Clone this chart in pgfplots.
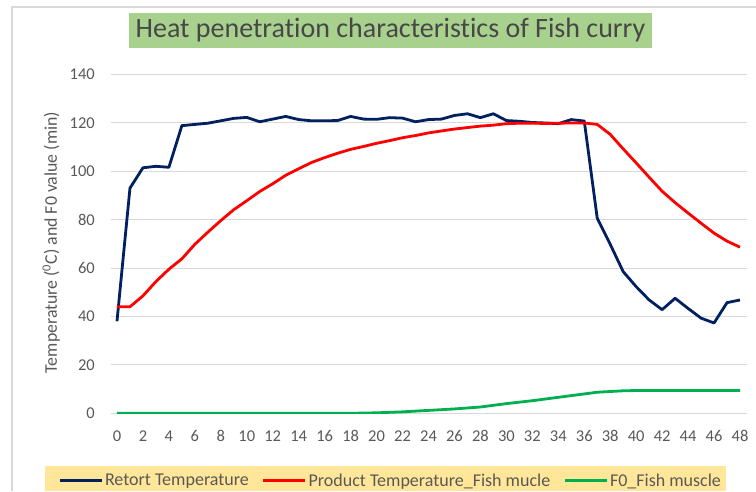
\documentclass[border=0pt]{standalone}
\usepackage{pgfplots}
\pgfplotsset{compat=1.18}
\usepackage{fontspec}
\setmainfont{Carlito}[Ligatures={NoCommon}]
\definecolor{retort}{HTML}{002060}
\definecolor{prodred}{HTML}{FF0000}
\definecolor{fzero}{HTML}{00B050}
\definecolor{gridgray}{HTML}{D9D9D9}
\definecolor{txtgray}{HTML}{595959}
\definecolor{titlegreen}{HTML}{A9D18E}
\definecolor{legyellow}{HTML}{FFE699}
\begin{document}
\begin{tikzpicture}[x=1pt,y=1pt]
\useasboundingbox (0,0) rectangle (756,491);
\fill[white] (0,0) rectangle (756,491);
\draw[gridgray, line width=1.5pt] (12,0) -- (12,484) -- (756,484);
\fill[legyellow] (45,0) rectangle (726,25);
\begin{axis}[
  at={(110.5pt,77.7pt)}, anchor=south west,
  scale only axis, width=636pt, height=339pt,
  xmin=-0.5, xmax=48.5, ymin=0, ymax=140,
  axis line style={draw=none},
  major tick length=0pt,
  xtick={0,2,...,48}, ytick={0,20,...,140},
  ymajorgrids, grid style={gridgray, line width=1pt},
  tick label style={font=\fontsize{16.5}{19}\selectfont, text=txtgray},
  /pgf/number format/assume math mode=true,
  yticklabel style={anchor=east, inner sep=0pt, xshift=-15.5pt},
  xticklabel style={anchor=north, inner sep=0pt, yshift=-17pt},
  ylabel={Temperature (\textsuperscript{0}C) and F0 value (min)},
  ylabel style={at={(axis description cs:-0.0935,0.504)}, anchor=center, font=\fontsize{17.8}{20}\selectfont, text=txtgray},
  title={Heat penetration characteristics of Fish curry},
  title style={at={(axis description cs:0.4403,1.1115)}, anchor=center, fill=titlegreen, minimum width=523pt, minimum height=35pt, inner sep=0pt, text=black!72, font=\fontsize{28}{30}\selectfont},
  legend columns=3,
  legend style={draw=none, fill=none, inner sep=0pt, at={(axis description cs:-0.0825,-0.1988)}, anchor=west,
    /tikz/every even column/.append style={column sep=11pt},
    nodes={inner xsep=2pt, inner ysep=0pt, text=txtgray, font=\fontsize{18}{20}\selectfont}},
  legend image code/.code={\draw[#1] (0pt,0pt) -- (42pt,0pt);},
  every axis plot/.append style={line width=2.8pt, line join=round},
]
\addplot[retort, mark=none] coordinates {
(0,38) (1,93) (2,101.4) (3,102) (4,101.6) (5,118.8) (6,119.3) (7,119.8) (8,120.8) (9,121.8)
(10,122.2) (11,120.4) (12,121.5) (13,122.6) (14,121.3) (15,120.8) (16,120.8) (17,120.9) (18,122.6) (19,121.5)
(20,121.4) (21,122.1) (22,121.9) (23,120.4) (24,121.3) (25,121.5) (26,123) (27,123.7) (28,122.1) (29,123.7)
(30,120.9) (31,120.6) (32,120.1) (33,119.9) (34,119.6) (35,121.3) (36,120.7) (37,80.6) (38,69.8) (39,58.5)
(40,52.3) (41,46.8) (42,42.8) (43,47.5) (44,43.3) (45,39.3) (46,37.3) (47,45.7) (48,46.8)};
\addlegendentry{Retort Temperature}
\addplot[prodred, mark=none] coordinates {
(0,44) (1,44) (2,48.5) (3,54.4) (4,59.5) (5,63.8) (6,69.8) (7,74.8) (8,79.6) (9,84.1)
(10,87.8) (11,91.6) (12,94.8) (13,98.3) (14,101) (15,103.6) (16,105.6) (17,107.4) (18,109) (19,110.2)
(20,111.5) (21,112.6) (22,113.8) (23,114.7) (24,115.8) (25,116.6) (26,117.4) (27,118) (28,118.6) (29,119)
(30,119.6) (31,119.8) (32,119.8) (33,119.7) (34,119.8) (35,119.9) (36,119.9) (37,119.3) (38,115.2) (39,109.2)
(40,103.4) (41,97.5) (42,91.7) (43,87) (44,82.7) (45,78.5) (46,74.4) (47,71.1) (48,68.6)};
\addlegendentry{Product Temperature\_Fish mucle}
\addplot[fzero, mark=none] coordinates {
(0,0) (1,0) (2,0) (3,0) (4,0) (5,0) (6,0) (7,0) (8,0) (9,0)
(10,0) (11,0) (12,0) (13,0) (14,0) (15,0) (16,0) (17,0) (18,0) (19,0.1)
(20,0.2) (21,0.4) (22,0.6) (23,0.9) (24,1.2) (25,1.5) (26,1.8) (27,2.2) (28,2.6) (29,3.3)
(30,4.0) (31,4.6) (32,5.2) (33,5.9) (34,6.6) (35,7.3) (36,8.0) (37,8.7) (38,9.0) (39,9.3)
(40,9.4) (41,9.4) (42,9.4) (43,9.4) (44,9.4) (45,9.4) (46,9.4) (47,9.4) (48,9.4)};
\addlegendentry{F0\_Fish muscle}
\end{axis}
\end{tikzpicture}
\end{document}
